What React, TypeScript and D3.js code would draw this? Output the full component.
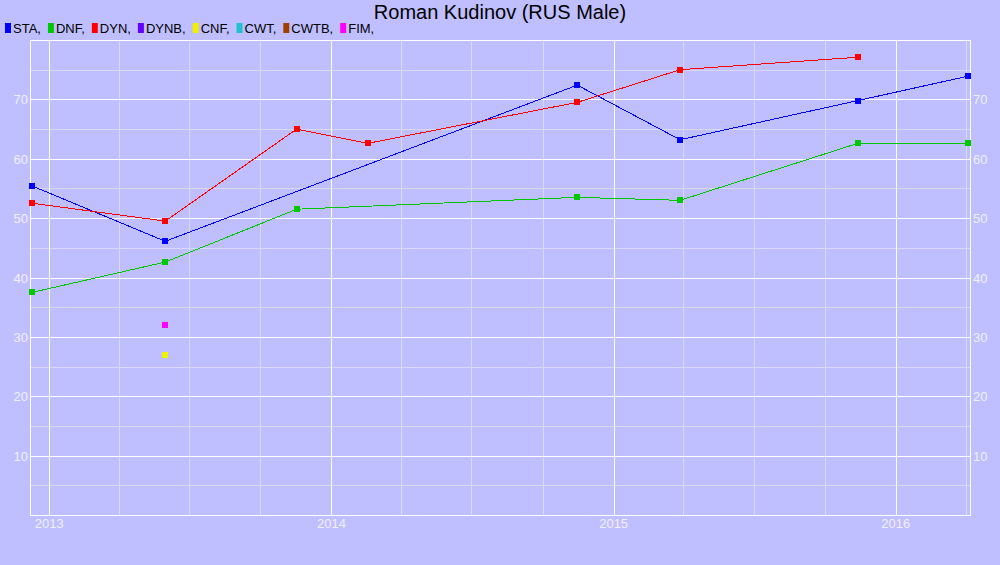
import { useEffect, useRef } from 'react'
import * as d3 from 'd3'

const title = 'Roman Kudinov (RUS Male)'

const disciplines = ['STA', 'DNF', 'DYN', 'DYNB', 'CNF', 'CWT', 'CWTB', 'FIM']
const colors = ['#0000ff', '#00c800', '#ff0000', '#6600ff', '#f0f000', '#20c0d0', '#a04000', '#ff00ff']

const staDates = ['2012-12-10', '2013-05-31', '2014-11-15', '2015-03-28', '2015-11-13', '2016-04-03']
const staValues = [55.4, 46.1, 72.4, 63.2, 69.8, 73.9]

const dnfDates = ['2012-12-10', '2013-05-31', '2013-11-17', '2014-11-15', '2015-03-28', '2015-11-13', '2016-04-03']
const dnfValues = [37.5, 42.6, 51.5, 53.5, 53.0, 62.6, 62.6]

const dynDates = ['2012-12-10', '2013-05-31', '2013-11-17', '2014-02-17', '2014-11-15', '2015-03-28', '2015-11-13']
const dynValues = [52.5, 49.5, 65.0, 62.6, 69.5, 75.0, 77.1]

const cnfDates = ['2013-05-31']
const cnfValues = [27]

const fimDates = ['2013-05-31']
const fimValues = [32]

const xDomain = ['2012-12-07', '2016-04-06']
const yDomain = [0, 80]
const yLabelTicks = [10, 20, 30, 40, 50, 60, 70]

interface Point {
  date: Date
  value: number
}

const parse = d3.timeParse('%Y-%m-%d')

const toPoints = (dates: string[], values: number[]): Point[] =>
  dates.map((d, i) => ({ date: parse(d) as Date, value: values[i] }))

const series = [
  { name: 'STA', points: toPoints(staDates, staValues) },
  { name: 'DNF', points: toPoints(dnfDates, dnfValues) },
  { name: 'DYN', points: toPoints(dynDates, dynValues) },
  { name: 'CNF', points: toPoints(cnfDates, cnfValues) },
  { name: 'FIM', points: toPoints(fimDates, fimValues) }
]

const width = 1000
const height = 565
const margin = { top: 40, right: 30, bottom: 50, left: 30 }
const bg = '#bfbfff'
const labelColor = '#f0f0ff'
const font = '"Liberation Sans", Arial, sans-serif'

const App = () => {
  const svgRef = useRef<SVGSVGElement>(null)

  useEffect(() => {
    document.body.style.margin = '0'
    if (!svgRef.current) return
    const svg = d3.select(svgRef.current)
    svg.selectAll('*').remove()

    const x = d3.scaleTime()
      .domain(xDomain.map(d => parse(d) as Date))
      .range([margin.left, width - margin.right])

    const y = d3.scaleLinear()
      .domain(yDomain)
      .range([height - margin.bottom, margin.top])

    const x0 = margin.left
    const x1 = width - margin.right
    const y0 = height - margin.bottom
    const y1 = margin.top

    svg.append('rect')
      .attr('width', width)
      .attr('height', height)
      .attr('fill', bg)

    const grid = svg.append('g').attr('shape-rendering', 'crispEdges')

    // minor grid: quarters and 5s
    const quarters = d3.timeMonth.every(3)!.range(x.domain()[0], x.domain()[1])
      .filter(d => d.getMonth() !== 0)
    grid.selectAll('line.qx')
      .data(quarters)
      .join('line')
      .attr('x1', d => Math.round(x(d)) + 0.5)
      .attr('x2', d => Math.round(x(d)) + 0.5)
      .attr('y1', y1)
      .attr('y2', y0)
      .attr('stroke', '#d8d8f0')

    const minorY = d3.range(5, 80, 10)
    grid.selectAll('line.my')
      .data(minorY)
      .join('line')
      .attr('x1', x0)
      .attr('x2', x1)
      .attr('y1', d => Math.round(y(d)) + 0.5)
      .attr('y2', d => Math.round(y(d)) + 0.5)
      .attr('stroke', '#d8d8f0')

    // major grid
    const years = x.ticks(d3.timeYear.every(1)!)
    grid.selectAll('line.yx')
      .data(years)
      .join('line')
      .attr('x1', d => Math.round(x(d)) + 0.5)
      .attr('x2', d => Math.round(x(d)) + 0.5)
      .attr('y1', y1)
      .attr('y2', y0)
      .attr('stroke', '#ffffff')

    grid.selectAll('line.majy')
      .data(yLabelTicks)
      .join('line')
      .attr('x1', x0)
      .attr('x2', x1)
      .attr('y1', d => Math.round(y(d)) + 0.5)
      .attr('y2', d => Math.round(y(d)) + 0.5)
      .attr('stroke', '#ffffff')

    grid.append('rect')
      .attr('x', x0 + 0.5)
      .attr('y', y1 + 0.5)
      .attr('width', x1 - x0)
      .attr('height', y0 - y1)
      .attr('fill', 'none')
      .attr('stroke', '#ffffff')

    // axis labels
    svg.append('g')
      .selectAll('text')
      .data(years)
      .join('text')
      .attr('x', d => x(d))
      .attr('y', y0 + 13)
      .attr('text-anchor', 'middle')
      .attr('font-family', font)
      .attr('font-size', 13)
      .attr('fill', labelColor)
      .text(d => d3.timeFormat('%Y')(d))

    svg.append('g')
      .selectAll('text')
      .data(yLabelTicks)
      .join('text')
      .attr('x', x0 - 2)
      .attr('y', d => y(d) + 5)
      .attr('text-anchor', 'end')
      .attr('font-family', font)
      .attr('font-size', 13)
      .attr('fill', labelColor)
      .text(d => d)

    svg.append('g')
      .selectAll('text')
      .data(yLabelTicks)
      .join('text')
      .attr('x', x1 + 3)
      .attr('y', d => y(d) + 5)
      .attr('font-family', font)
      .attr('font-size', 13)
      .attr('fill', labelColor)
      .text(d => d)

    // series
    const line = d3.line<Point>()
      .x(d => x(d.date))
      .y(d => y(d.value))

    series.forEach(s => {
      const color = colors[disciplines.indexOf(s.name)]
      const g = svg.append('g')
      if (s.points.length > 1) {
        g.append('path')
          .datum(s.points)
          .attr('fill', 'none')
          .attr('stroke', color)
          .attr('stroke-width', 1)
          .attr('shape-rendering', 'crispEdges')
          .attr('d', line)
      }
      g.selectAll('rect')
        .data(s.points)
        .join('rect')
        .attr('x', d => Math.round(x(d.date)) - 3)
        .attr('y', d => Math.round(y(d.value)) - 3)
        .attr('width', 6)
        .attr('height', 6)
        .attr('fill', color)
    })

    // title
    svg.append('text')
      .attr('x', width / 2)
      .attr('y', 18.5)
      .attr('text-anchor', 'middle')
      .attr('font-family', font)
      .attr('font-size', 20)
      .attr('fill', '#000000')
      .text(title)

    // legend
    const legend = svg.append('g')
    let lx = 5
    disciplines.forEach((name, i) => {
      legend.append('rect')
        .attr('x', lx)
        .attr('y', 23)
        .attr('width', 6)
        .attr('height', 10)
        .attr('fill', colors[i])
      const t = legend.append('text')
        .attr('x', lx + 8)
        .attr('y', 33)
        .attr('font-family', font)
        .attr('font-size', 13)
        .attr('fill', '#000000')
        .text(`${name},`)
      const w = (t.node() as SVGTextElement).getComputedTextLength()
      lx += 8 + w + 7
    })
  }, [])

  return (
    <svg
      ref={svgRef}
      width={width}
      height={height}
      style={{ display: 'block' }}
    />
  )
}

export default App
